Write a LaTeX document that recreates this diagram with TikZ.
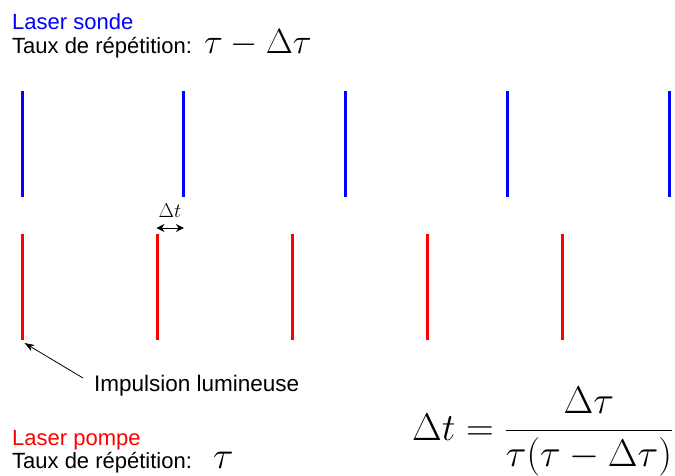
\RequirePackage{fix-cm}
\documentclass[tikz,border=0pt]{standalone}
\usepackage[no-math]{fontspec}
\setmainfont{Liberation Sans}
\usetikzlibrary{arrows.meta}
\begin{document}
\begin{tikzpicture}[x=1pt,y=-1pt,
  pulseB/.style={blue, line width=3pt},
  pulseR/.style={red, line width=3pt},
  lbl/.style={inner sep=0pt, anchor=base west, font=\fontsize{22}{26}\selectfont},
  mth/.style={inner sep=0pt, anchor=base west},
  ptr/.style={line width=0.8pt, -{Stealth[length=10pt,width=7pt]}},
  dbl/.style={line width=1pt, {Stealth[length=8pt,width=8pt]}-{Stealth[length=8pt,width=8pt]}}]
\useasboundingbox (0,0) rectangle (675,475);
% probe laser pulses
\foreach \i in {0,...,4} {
  \draw[pulseB] ({22+161.9*\i},91) coordinate (b\i t) -- ({22+161.9*\i},197) coordinate (b\i b);
}
% pump laser pulses
\foreach \i in {0,...,4} {
  \draw[pulseR] ({22+135*\i},234) coordinate (r\i t) -- ({22+135*\i},340) coordinate (r\i b);
}
% header
\node[lbl, text=blue] (sonde) at (12,29) {Laser sonde};
\node[lbl] (tsonde) at (12,53) {Taux de répétition:};
\node[mth, font=\fontsize{35}{40}\selectfont] (msonde) at (204,53) {$\tau - \Delta\tau$};
% delta t
\node[font=\fontsize{20}{24}\selectfont] (dt) at (170,211) {$\Delta t$};
\coordinate (dl) at (156.5,228);
\coordinate (dr) at (183.9,228);
\draw[dbl] (dl) -- (dr);
% impulsion
\node[lbl, font=\fontsize{22.5}{26}\selectfont] (imp) at (94,391) {Impulsion lumineuse};
\coordinate (impS) at (83,378);
\coordinate (impE) at (24.5,343);
\draw[ptr] (impS) -- (impE);
% pump text
\node[lbl, text=red] (pompe) at (12,445) {Laser pompe};
\node[lbl] (tpompe) at (12,468) {Taux de répétition:};
\node[mth, font=\fontsize{38}{44}\selectfont] (mpompe) at (213,468) {$\tau$};
% formula
\node[mth, font=\fontsize{38.5}{46}\selectfont] (form) at (412,440) {$\displaystyle \Delta t = \frac{\Delta\tau}{\tau(\tau-\Delta\tau)}$};
\end{tikzpicture}
\end{document}
